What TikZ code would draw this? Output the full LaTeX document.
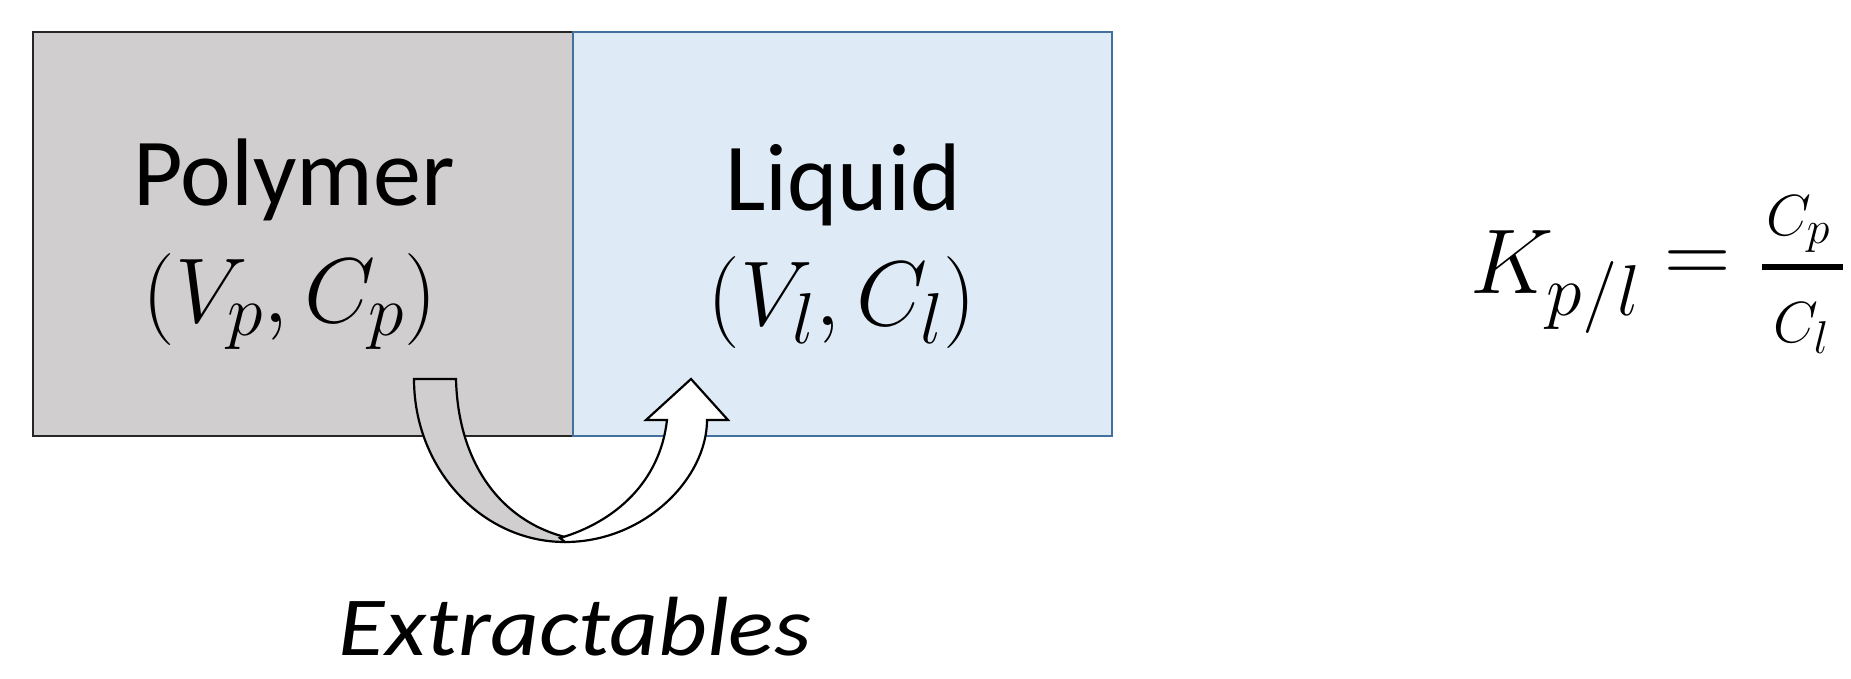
\documentclass[tikz,border=0pt]{standalone}
\usepackage{fix-cm}
\usepackage{graphicx}
\usepackage[no-math]{fontspec}
\setmainfont{Carlito}
\newcommand{\bigsubA}[1]{_{\hbox{\fontsize{72}{80}\selectfont$#1$}}}
\newcommand{\bigsubB}[1]{_{\hbox{\fontsize{46}{50}\selectfont$#1$}}}
\definecolor{polyfill}{HTML}{D0CECE}
\definecolor{liqfill}{HTML}{DEEBF7}
\definecolor{liqline}{HTML}{41719C}
\definecolor{polyline}{HTML}{262626}
\tikzset{
  phasebox/.style={rectangle, minimum width=540pt, minimum height=404pt, line width=2.5pt, inner sep=0pt},
  label96/.style={anchor=base, inner sep=0pt, font=\fontsize{96}{110}\selectfont},
  math92/.style={anchor=base, inner sep=0pt, font=\fontsize{92}{100}\selectfont},
  mathsmall/.style={anchor=base, inner sep=0pt, font=\fontsize{58}{64}\selectfont},
  arrowpart/.style={draw=black, line width=2.2pt, line join=miter},
}
\begin{document}
\begin{tikzpicture}[x=1pt,y=-1pt]
\useasboundingbox (0,0) rectangle (1851,678);
% boxes
\node[phasebox, draw=polyline, fill=polyfill] (poly) at (303,234) {};
\node[phasebox, draw=liqline, fill=liqfill, minimum width=539pt] (liq) at (842.5,234) {};
% labels
\node[label96] (polyname) at (294,205) {Polymer};
\node[math92] (polyvars) at (290,322) {$(V\bigsubA{p},C\bigsubA{p})$};
\node[label96] (liqname) at (843,210) {Liquid};
\node[math92] (liqvars) at (842,325) {$(V\bigsubA{l},C\bigsubA{l})$};
% curved arrow
\coordinate (tailL) at (414,379);
\coordinate (tailR) at (456,379);
\coordinate (cross) at (569,538);
\coordinate (bottom) at (565,542);
\coordinate (shaftO) at (707,420);
\coordinate (headR) at (728,420);
\coordinate (tip) at (691,379);
\coordinate (headL) at (646,420);
\coordinate (shaftI) at (667,420);
\coordinate (crossW) at (560,538);
\path[arrowpart, fill=polyfill] (tailL) -- (tailR) .. controls (458,462) and (500,522) .. (cross)
   -- (bottom) .. controls (482,542) and (414,469) .. (tailL) -- cycle;
\path[arrowpart, fill=white] (bottom) .. controls (645,542) and (707,478) .. (shaftO)
   -- (headR) -- (tip) -- (headL) -- (shaftI) .. controls (660,482) and (615,522) .. (crossW) -- cycle;
% caption
\node[anchor=base, inner sep=0pt, font=\fontsize{84}{96}\selectfont\itshape] (extr) at (575,655) {\scalebox{1.13}[1]{Extractables}};
% equation
\node[math92, anchor=base west] (kpl) at (1470,293) {$K\bigsubA{p/l}$};
\node[inner sep=0pt, font=\fontsize{92}{100}\selectfont] (eqs) at (1698,267) {$=$};
\node[mathsmall] (num) at (1798,235) {$C\bigsubB{p}$};
\node[mathsmall] (den) at (1801,342) {$C\bigsubB{l}$};
\coordinate (barL) at (1762,267);
\coordinate (barR) at (1843,267);
\draw[line width=6pt] (barL) -- (barR);
\end{tikzpicture}
\end{document}
